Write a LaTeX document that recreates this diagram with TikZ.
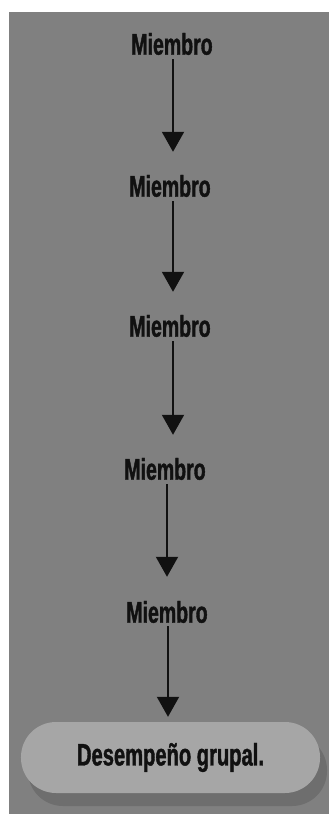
\documentclass[tikz,border=0pt]{standalone}
\usepackage{fontspec}
\newfontfamily\cond{Liberation Sans}[FakeStretch=0.65,FakeBold=1.2]
\usetikzlibrary{arrows.meta}
\definecolor{bggray}{HTML}{808080}
\definecolor{boxgray}{HTML}{A6A6A6}
\definecolor{shadowgray}{HTML}{6E6E6E}
\definecolor{ink}{HTML}{111111}
\tikzset{
  member/.style={inner sep=0pt, text=ink, font=\cond\bfseries\fontsize{30bp}{32bp}\selectfont},
  arr/.style={draw=ink, line width=2bp, -{Triangle[width=22bp,length=20bp]}},
  result/.style={inner sep=0pt, minimum width=299bp, minimum height=71bp, rounded corners=35bp,
     fill=boxgray, text=ink, font=\cond\bfseries\fontsize{31bp}{33bp}\selectfont},
}
\begin{document}
\begin{tikzpicture}[x=1bp,y=-1bp]
\useasboundingbox (0,0) rectangle (329,814);
\fill[white] (0,0) rectangle (329,814);
\fill[bggray] (9,12) rectangle (329,814);
% nodes
\node[member] (m1) at (172,44) {Miembro};
\node[member] (m2) at (170,186) {Miembro};
\node[member] (m3) at (170,326) {Miembro};
\node[member] (m4) at (165,469) {Miembro};
\node[member] (m5) at (167,612) {Miembro};
\fill[shadowgray, rounded corners=35bp] (28,735) rectangle (327,806);
\node[result] (d) at (170.5,757.5) {Desempeño grupal.};
% connectors
\draw[arr, shorten >=23bp] ([xshift=1bp,yshift=-4bp]m1.south) -- ([xshift=1bp]m1.south |- m2.north);
\draw[arr, shorten >=23bp] ([xshift=3bp,yshift=-4bp]m2.south) -- ([xshift=3bp]m2.south |- m3.north);
\draw[arr, shorten >=23bp] ([xshift=3bp,yshift=-4bp]m3.south) -- ([xshift=3bp]m3.south |- m4.north);
\draw[arr, shorten >=24bp] ([xshift=2bp,yshift=-4bp]m4.south) -- ([xshift=2bp]m4.south |- m5.north);
\draw[arr, shorten >=5bp] ([xshift=1bp,yshift=-3bp]m5.south) -- ([xshift=1bp]m5.south |- d.north);
\end{tikzpicture}
\end{document}
